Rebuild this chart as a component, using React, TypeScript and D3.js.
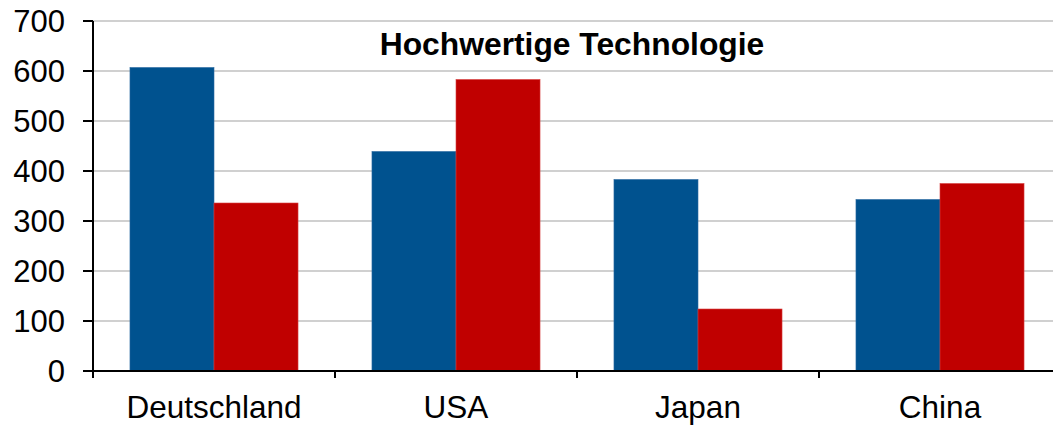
import React from "react";
import * as d3 from "d3";

const categories = ["Deutschland", "USA", "Japan", "China"];
const seriesNames = ["Serie A", "Serie B"];
const seriesA = [607, 439, 383, 343];
const seriesB = [336, 583, 124, 375];
const yTicks = [0, 100, 200, 300, 400, 500, 600, 700];
const title = "Hochwertige Technologie";
const colors = ["#00528f", "#c00000"];

export default function App() {
  const W = 1053;
  const H = 425;
  const left = 93;
  const right = 1061;
  const top = 21;
  const bottom = 371;

  const x0 = d3.scaleBand<string>().domain(categories).range([left, right]).padding(0);
  const x1 = d3
    .scaleBand<string>()
    .domain(seriesNames)
    .range([0, x0.bandwidth()])
    .paddingInner(0)
    .paddingOuter(0.44);
  const y = d3.scaleLinear().domain([0, 700]).range([bottom, top]);

  const values = [seriesA, seriesB];
  const font = "'Liberation Sans', Arial, Helvetica, sans-serif";

  return (
    <div style={{ position: "absolute", left: 0, top: 0 }}>
      <svg width={W} height={H} style={{ display: "block" }}>
        <rect x={0} y={0} width={W} height={H} fill="#ffffff" />
        {yTicks.slice(1).map((t) => (
          <line
            key={"g" + t}
            x1={left}
            x2={right}
            y1={y(t)}
            y2={y(t)}
            stroke="#c0c0c0"
            strokeWidth={1.6}
          />
        ))}
        {categories.map((c, i) =>
          seriesNames.map((s, j) => {
            const v = values[j][i];
            const bx = (x0(c) ?? 0) + (x1(s) ?? 0);
            return (
              <rect
                key={c + s}
                x={bx}
                y={y(v)}
                width={x1.bandwidth()}
                height={y(0) - y(v)}
                fill={colors[j]}
                stroke={j === 0 ? "#2a6aa0" : "#d84040"}
                strokeWidth={0.6}
              />
            );
          })
        )}
        <text
          x={572}
          y={55}
          textAnchor="middle"
          fontFamily={font}
          fontWeight="bold"
          fontSize={31.8}
          fill="#000"
        >
          {title}
        </text>
        {/* y axis */}
        <line x1={left} x2={left} y1={top} y2={bottom + 7} stroke="#000" strokeWidth={2} />
        {yTicks.map((t) => (
          <g key={"t" + t}>
            <line x1={83} x2={left} y1={y(t)} y2={y(t)} stroke="#000" strokeWidth={2} />
            <text
              x={65}
              y={y(t) + 11}
              textAnchor="end"
              fontFamily={font}
              fontSize={31}
              fill="#000"
            >
              {t}
            </text>
          </g>
        ))}
        {/* x axis */}
        <line x1={83} x2={right} y1={bottom} y2={bottom} stroke="#000" strokeWidth={2} />
        {categories.map((c) => (
          <line
            key={"xt" + c}
            x1={x0(c)}
            x2={x0(c)}
            y1={bottom}
            y2={bottom + 7}
            stroke="#000"
            strokeWidth={2}
          />
        ))}
        {categories.map((c) => (
          <text
            key={"xl" + c}
            x={(x0(c) ?? 0) + x0.bandwidth() / 2}
            y={417.5}
            textAnchor="middle"
            fontFamily={font}
            fontSize={31.5}
            fill="#000"
          >
            {c}
          </text>
        ))}
      </svg>
    </div>
  );
}
